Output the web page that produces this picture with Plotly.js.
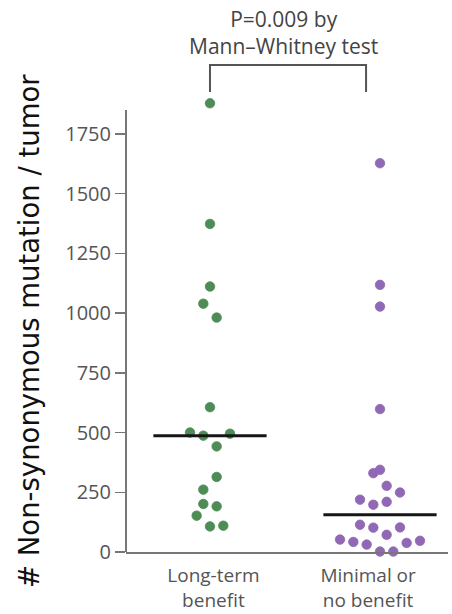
<!DOCTYPE html>
<html>
<head>
<meta charset="utf-8">
<script src="https://cdn.plot.ly/plotly-3.0.1.min.js"></script>
<style>
  html, body { margin: 0; padding: 0; background: #fff; }
  #chart { width: 452px; height: 614px; }
</style>
</head>
<body>
<div id="chart"></div>
<script>
// ---- data ----
const categories = ['Long-term<br>benefit', 'Minimal or<br>no benefit'];
const longTermValues = [1878, 1373, 1111, 1039, 981, 606, 500, 487, 495, 442, 314, 261, 201, 191, 152, 107, 110];
const longTermSlots  = [0, 0, 0, -1, 1, 0, -3, -1, 3, 1, 1, -1, -1, 1, -2, 0, 2];
const minimalValues  = [1627, 1118, 1027, 598, 330, 344, 277, 249, 219, 198, 210, 114, 102, 103, 72, 52, 42, 31, 2, 2, 38, 47];
const minimalSlots   = [0, 0, 0, 0, -1, 0, 1, 3, -3, -1, 1, -3, -1, 3, 1, -6, -4, -2, 0, 2, 4, 6];
const yTickVals = [0, 250, 500, 750, 1000, 1250, 1500, 1750];
const yTitle = '# Non-synonymous mutation / tumor';
const pValueText = 'P=0.009 by<br>Mann–Whitney test';

// ---- layout constants ----
const W = 452, H = 614;
const M = { l: 126, r: 4, t: 98, b: 62 };
const xRange = [-0.494, 1.4];
const yRange = [0, 1900];
const yAxisTop = 1850;       // where the drawn y-axis line ends
const slotStep = 0.0392;     // horizontal swarm step (data units)
const labelPos = [0.02, 0.93];
const medianHalf = 0.333;

function median(arr) {
  const s = arr.slice().sort((a, b) => a - b);
  const n = s.length;
  return n % 2 ? s[(n - 1) / 2] : (s[n / 2 - 1] + s[n / 2]) / 2;
}
const plotW = W - M.l - M.r, plotH = H - M.t - M.b;
const pxToPaperX = px => (px - M.l) / plotW;
const pxToPaperY = py => (H - M.b - py) / plotH;
const dataToPaperX = v => (v - xRange[0]) / (xRange[1] - xRange[0]);

const groups = [
  { vals: longTermValues, slots: longTermSlots, color: '#4d8c55', c: 0 },
  { vals: minimalValues, slots: minimalSlots, color: '#9068b5', c: 1 }
];

const traces = [];
groups.forEach(g => {
  traces.push({
    type: 'scatter', mode: 'markers',
    x: g.slots.map(s => g.c + s * slotStep),
    y: g.vals,
    marker: { size: 9.5, color: g.color, line: { width: 0.8, color: g.color } },
    cliponaxis: false, hoverinfo: 'y', showlegend: false
  });
});
groups.forEach(g => {
  const m = median(g.vals);
  traces.push({
    type: 'scatter', mode: 'lines',
    x: [g.c - medianHalf, g.c + medianHalf],
    y: [m, m],
    line: { color: '#161616', width: 3 },
    cliponaxis: false, hoverinfo: 'skip', showlegend: false
  });
});

const bx0 = dataToPaperX(0), bx1 = dataToPaperX(0.918);
const bTop = pxToPaperY(65), bBot = pxToPaperY(92);

const layout = {
  width: W, height: H,
  margin: M,
  paper_bgcolor: '#fff', plot_bgcolor: '#fff',
  showlegend: false,
  font: { family: 'Open Sans, sans-serif', color: '#555', size: 20 },
  xaxis: {
    range: xRange, showgrid: false, zeroline: false,
    showline: true, linecolor: '#777', linewidth: 2,
    tickmode: 'array', tickvals: labelPos, ticktext: categories,
    ticks: '', ticklabelstandoff: 5,
    tickfont: { family: 'Open Sans, sans-serif', size: 19, color: '#555' }
  },
  yaxis: {
    range: yRange, showgrid: false, zeroline: false,
    showline: false,
    tickmode: 'array', tickvals: yTickVals,
    ticks: 'outside', ticklen: 10, tickwidth: 1.5, tickcolor: '#777',
    tickfont: { family: 'Open Sans, sans-serif', size: 20, color: '#555' }
  },
  shapes: [
    { type: 'line', xref: 'paper', yref: 'y', x0: 0, x1: 0, y0: yRange[0], y1: yAxisTop,
      line: { color: '#777', width: 2 }, layer: 'below' },
    { type: 'path', xref: 'paper', yref: 'paper',
      path: `M ${bx0} ${bBot} L ${bx0} ${bTop} L ${bx1} ${bTop} L ${bx1} ${bBot}`,
      line: { color: '#555', width: 2 } }
  ],
  annotations: [
    { text: pValueText, xref: 'paper', yref: 'paper',
      x: pxToPaperX(283), y: pxToPaperY(62), xanchor: 'center', yanchor: 'bottom',
      showarrow: false, font: { family: 'Open Sans, sans-serif', size: 21, color: '#444' } },
    { text: yTitle, xref: 'paper', yref: 'paper', textangle: -90,
      x: pxToPaperX(29), y: pxToPaperY(331), xanchor: 'center', yanchor: 'middle',
      showarrow: false, font: { family: 'DejaVu Sans, sans-serif', size: 27.5, color: '#111' } }
  ]
};

Plotly.newPlot('chart', traces, layout, { displayModeBar: false, staticPlot: true });
</script>
</body>
</html>
